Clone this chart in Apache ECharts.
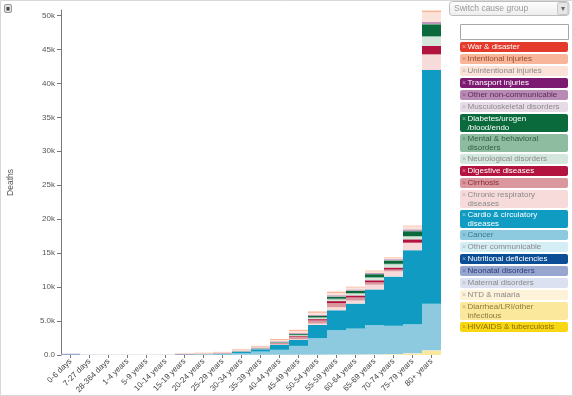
<!DOCTYPE html>
<html>
<head>
<meta charset="UTF-8">
<title>Deaths by age and cause</title>
<script src="https://cdn.jsdelivr.net/npm/echarts@6/dist/echarts.min.js"></script>
<style>
  html, body { margin: 0; padding: 0; background: #fff; }
  #chart { width: 573px; height: 396px; }
</style>
</head>
<body>
<div id="chart"></div>
<script>
// age groups on the x axis
var ages = ['0-6 days', '7-27 days', '28-364 days', '1-4 years', '5-9 years', '10-14 years',
  '15-19 years', '20-24 years', '25-29 years', '30-34 years', '35-39 years', '40-44 years',
  '45-49 years', '50-54 years', '55-59 years', '60-64 years', '65-69 years', '70-74 years',
  '75-79 years', '80+ years'];

var yTicks = [0, 5000, 10000, 15000, 20000, 25000, 30000, 35000, 40000, 45000, 50000];

// deaths per cause, one value per age group (bottom of the stack first)
var hivTb        = [0, 0, 0, 0, 0, 0, 0, 2, 3, 4, 5, 6, 6, 6, 6, 5, 5, 4, 3, 2];
var diarrheaLri  = [5, 3, 10, 3, 1, 1, 2, 2, 3, 4, 6, 10, 15, 20, 30, 50, 60, 100, 220, 660];
var ntdMalaria   = [0, 0, 0, 0, 0, 0, 0, 0, 0, 0, 0, 0, 0, 0, 0, 0, 0, 0, 0, 0];
var maternal     = [0, 0, 0, 0, 0, 0, 1, 2, 3, 3, 2, 1, 0, 0, 0, 0, 0, 0, 0, 0];
var neonatal     = [150, 30, 10, 0, 0, 0, 0, 0, 0, 0, 0, 0, 0, 0, 0, 0, 0, 0, 0, 0];
var nutritional  = [0, 0, 1, 0, 0, 0, 0, 0, 0, 0, 0, 0, 1, 1, 2, 2, 3, 5, 10, 10];
var otherComm    = [5, 3, 5, 2, 1, 1, 2, 3, 5, 8, 10, 15, 20, 25, 30, 30, 35, 40, 60, 50];
var cancer       = [0, 0, 2, 10, 10, 10, 30, 40, 70, 230, 480, 730, 1300, 2420, 3580, 3800, 4300, 4150, 4240, 6840];
var cardio       = [2, 1, 3, 3, 2, 3, 20, 30, 60, 230, 350, 740, 880, 1960, 2940, 3680, 5250, 7250, 10900, 34400];
var chronicResp  = [1, 1, 2, 3, 2, 2, 3, 5, 5, 10, 20, 50, 100, 200, 450, 450, 700, 780, 1060, 2240];
var cirrhosis    = [0, 0, 0, 0, 0, 0, 2, 3, 5, 10, 40, 120, 330, 450, 600, 450, 350, 250, 50, 100];
var digestive    = [2, 1, 3, 2, 1, 1, 3, 5, 10, 10, 30, 70, 120, 200, 300, 300, 300, 300, 490, 1220];
var neurological = [2, 2, 5, 10, 5, 5, 20, 20, 20, 20, 30, 60, 100, 150, 200, 250, 350, 450, 410, 1320];
var mental       = [0, 0, 0, 0, 0, 0, 5, 10, 20, 30, 40, 60, 100, 120, 150, 100, 100, 100, 50, 100];
var diabetes     = [1, 1, 2, 2, 1, 2, 5, 10, 10, 20, 30, 60, 120, 200, 300, 350, 450, 500, 740, 1760];
var musculo      = [0, 0, 0, 0, 0, 1, 2, 3, 5, 5, 5, 10, 20, 30, 40, 40, 50, 50, 50, 50];
var otherNonComm = [30, 10, 20, 10, 5, 5, 10, 10, 20, 20, 20, 30, 50, 80, 100, 100, 100, 100, 200, 250];
var transport    = [0, 0, 0, 5, 8, 10, 40, 40, 30, 30, 30, 40, 50, 50, 50, 30, 20, 20, 15, 20];
var unintentional= [2, 2, 10, 20, 10, 10, 60, 80, 100, 100, 130, 200, 300, 300, 350, 300, 250, 250, 450, 1450];
var intentional  = [0, 0, 1, 2, 1, 5, 50, 70, 90, 100, 120, 150, 200, 200, 200, 120, 100, 80, 100, 250];
var warDisaster  = [0, 0, 0, 0, 0, 0, 0, 0, 0, 0, 0, 0, 0, 0, 0, 0, 0, 0, 0, 0];

var causes = ['HIV/AIDS & tuberculosis', 'Diarrhea/LRI/other\ninfectious', 'NTD & malaria',
  'Maternal disorders', 'Neonatal disorders', 'Nutritional deficiencies', 'Other communicable',
  'Cancer', 'Cardio & circulatory\ndiseases', 'Chronic respiratory\ndiseases', 'Cirrhosis',
  'Digestive diseases', 'Neurological disorders', 'Mental & behavioral\ndisorders',
  'Diabetes/urogen\n/blood/endo', 'Musculoskeletal disorders', 'Other non-communicable',
  'Transport injuries', 'Unintentional injuries', 'Intentional injuries', 'War & disaster'];
var values = [hivTb, diarrheaLri, ntdMalaria, maternal, neonatal, nutritional, otherComm,
  cancer, cardio, chronicResp, cirrhosis, digestive, neurological, mental, diabetes,
  musculo, otherNonComm, transport, unintentional, intentional, warDisaster];

// fill and legend text colour, same order as causes
var fills = ['#f7d614', '#fce89c', '#fef3d8', '#dce1f1', '#97a6cf', '#0c4e95', '#d5edf5',
  '#8ecadf', '#0f9bc2', '#f7dbdb', '#da979d', '#b2133f', '#d4e7dd', '#8ebca1', '#0b6a3c',
  '#e7dbe8', '#b88bb4', '#7c1a71', '#fce3d9', '#f8b599', '#e43a2c'];
var inks = ['#8a6d00', '#8a7a3c', '#8a8a8a', '#8a8a8a', '#2b3c7a', '#ffffff', '#8a8a8a',
  '#3b7a90', '#ffffff', '#8a8a8a', '#8a2a35', '#ffffff', '#8a8a8a', '#2f5e46', '#ffffff',
  '#8a8a8a', '#5a2a5a', '#ffffff', '#8a8a8a', '#9a4b2c', '#ffffff'];

var font = '"Liberation Sans", Arial, sans-serif';

var series = causes.map(function (name, i) {
  return {
    name: name,
    type: 'bar',
    stack: 'deaths',
    data: values[i],
    barCategoryGap: '0%',
    itemStyle: { color: fills[i] },
    emphasis: { disabled: true }
  };
});

// legend panel on the right, drawn as graphics (top item = last cause)
var graphics = [
  { type: 'rect', shape: { x: 0.5, y: 0.5, width: 572, height: 395 }, style: { fill: 'none', stroke: '#d8d8d8' } },
  { type: 'rect', shape: { x: 4.5, y: 4.5, width: 7, height: 8, r: 1.5 }, style: { fill: '#e2e2e2', stroke: '#9a9a9a' } },
  { type: 'rect', shape: { x: 6.5, y: 7, width: 3, height: 3.5 }, style: { fill: '#444' } },
  { type: 'rect', shape: { x: 449.5, y: 1.5, width: 119.5, height: 14, r: 3 },
    style: { fill: new echarts.graphic.LinearGradient(0, 0, 0, 1, [{ offset: 0, color: '#ffffff' }, { offset: 1, color: '#ececec' }]), stroke: '#bdbdbd' } },
  { type: 'text', x: 454, y: 8.5, style: { text: 'Switch cause group', fill: '#9a9a9a', font: '8.5px ' + font, verticalAlign: 'middle' } },
  { type: 'rect', shape: { x: 557.5, y: 2.5, width: 10.5, height: 12, r: 2 }, style: { fill: '#e6e6e6', stroke: '#c8c8c8' } },
  { type: 'text', x: 562.8, y: 8.8, style: { text: '▾', fill: '#666', font: '8px ' + font, align: 'center', verticalAlign: 'middle' } },
  { type: 'rect', shape: { x: 460.5, y: 24.5, width: 108, height: 15 }, style: { fill: '#fff', stroke: '#a8a8a8' } }
];
var itemY = 42;
for (var k = causes.length - 1; k >= 0; k--) {
  var twoLines = causes[k].indexOf('\n') >= 0;
  var h = twoLines ? 18 : 10;
  graphics.push({ type: 'rect', shape: { x: 460, y: itemY, width: 108, height: h, r: 2 }, style: { fill: fills[k] } });
  graphics.push({ type: 'text', x: 462, y: itemY + 1.5, style: { text: '×', fill: inks[k], opacity: 0.55, font: '7px ' + font } });
  graphics.push({ type: 'text', x: 467.5, y: itemY + 0.8, style: { text: causes[k], fill: inks[k], font: '8px ' + font, lineHeight: 8.5 } });
  itemY += h + 2;
}

var chart = echarts.init(document.getElementById('chart'), null, { renderer: 'canvas' });
chart.setOption({
  backgroundColor: '#fff',
  animation: false,
  grid: { left: 61, right: 132, top: 10, bottom: 41, containLabel: false, outerBoundsMode: 'none' },
  xAxis: {
    type: 'category',
    data: ages,
    axisLine: { show: false },
    axisTick: { show: true, alignWithLabel: true, length: 3, lineStyle: { color: '#777' } },
    axisLabel: { interval: 0, rotate: 45, margin: 5, fontSize: 8, color: '#444', fontFamily: font }
  },
  yAxis: {
    type: 'value',
    min: 0,
    max: 50800,
    name: 'Deaths',
    nameLocation: 'middle',
    nameRotate: 90,
    nameGap: 46,
    nameTextStyle: { fontSize: 8.5, color: '#555', fontFamily: font },
    axisLine: { show: true, lineStyle: { color: '#777' } },
    axisTick: { show: true, length: 4, customValues: yTicks, lineStyle: { color: '#777' } },
    axisLabel: {
      customValues: yTicks, margin: 6, fontSize: 8, color: '#555', fontFamily: font,
      formatter: function (v) {
        if (v === 0) return '0.0';
        return v < 10000 ? (v / 1000).toFixed(1) + 'k' : (v / 1000) + 'k';
      }
    },
    splitLine: { show: false }
  },
  tooltip: { show: false },
  series: series,
  graphic: graphics
});
</script>
</body>
</html>
